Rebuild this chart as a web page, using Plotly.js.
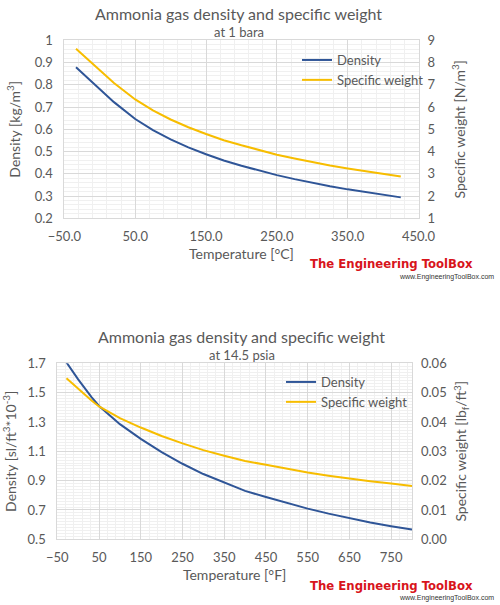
<!DOCTYPE html>
<html>
<head>
<meta charset="utf-8">
<script src="https://cdn.plot.ly/plotly-3.0.1.min.js"></script>
<style>html,body{margin:0;padding:0;background:#fff;}#chart{width:500px;height:605px;}</style>
</head>
<body>
<div id="chart"></div>
<script>
// ---- Top chart data (1 bara, SI units) ----
var tempC = [-33.6, -20, 0, 20, 50, 75, 100, 125, 150, 175, 200, 225, 250, 275, 300, 325, 350, 375, 400, 425];
var densityKgM3 = [0.879, 0.839, 0.780, 0.722, 0.646, 0.596, 0.555, 0.519, 0.488, 0.460, 0.436, 0.414, 0.394, 0.376, 0.359, 0.344, 0.330, 0.317, 0.305, 0.294];
var specWeightNM3 = [8.62, 8.23, 7.65, 7.08, 6.34, 5.85, 5.44, 5.09, 4.79, 4.51, 4.28, 4.06, 3.86, 3.69, 3.52, 3.37, 3.24, 3.11, 2.99, 2.88];

// ---- Bottom chart data (14.5 psia, imperial units) ----
var tempF = [-28, 0, 32, 50, 100, 150, 200, 250, 300, 350, 400, 450, 500, 550, 600, 650, 700, 750, 800];
var densitySlFt3 = [1.706, 1.59, 1.47, 1.409, 1.285, 1.185, 1.095, 1.015, 0.945, 0.885, 0.830, 0.788, 0.746, 0.709, 0.675, 0.643, 0.614, 0.589, 0.566];
var specWeightLbFt3 = [0.0549, 0.0512, 0.0473, 0.0453, 0.0413, 0.0381, 0.0352, 0.0327, 0.0304, 0.0285, 0.0267, 0.0254, 0.0240, 0.0228, 0.0217, 0.0207, 0.0198, 0.0190, 0.0182];

var seriesNames = ['Density', 'Specific weight'];
var blue = '#2f5597', gold = '#f7bd00';
var txt = '#595959';
var FONT = 'Lato, "Open Sans", sans-serif';
var major = '#d9d9d9', minor = '#f0f0f0';

var traces = [
  {x: tempC, y: densityKgM3, name: seriesNames[0], type: 'scatter', mode: 'lines', line: {color: blue, width: 2}, xaxis: 'x', yaxis: 'y', legend: 'legend'},
  {x: tempC, y: specWeightNM3, name: seriesNames[1], type: 'scatter', mode: 'lines', line: {color: gold, width: 2}, xaxis: 'x', yaxis: 'y2', legend: 'legend'},
  {x: tempF, y: densitySlFt3, name: seriesNames[0], type: 'scatter', mode: 'lines', line: {color: blue, width: 2}, xaxis: 'x2', yaxis: 'y3', legend: 'legend2'},
  {x: tempF, y: specWeightLbFt3, name: seriesNames[1], type: 'scatter', mode: 'lines', line: {color: gold, width: 2}, xaxis: 'x2', yaxis: 'y4', legend: 'legend2'}
];

function xax(domain, range, fmt, anchor, title, minorTick0) {
  return {
    domain: domain, anchor: anchor, range: range, tick0: range[0], dtick: 100, tickformat: fmt,
    showgrid: true, gridcolor: major, gridwidth: 1, zeroline: false,
    minor: {dtick: 20, tick0: minorTick0, showgrid: true, gridcolor: minor, gridwidth: 1},
    showline: true, linecolor: major, mirror: true,
    ticks: '', ticklabelstandoff: 6,
    tickfont: {family: FONT, size: 13, color: txt},
    title: {text: title, font: {family: FONT, size: 14, color: txt}, standoff: 6},
    fixedrange: true
  };
}
function yleft(domain, range, dtick, fmt, anchor, title, minorD) {
  return {
    domain: domain, anchor: anchor, range: range, tick0: range[0], dtick: dtick, tickformat: fmt,
    showgrid: true, gridcolor: major, gridwidth: 1, zeroline: false,
    minor: {dtick: minorD, showgrid: true, gridcolor: minor, gridwidth: 1},
    showline: true, linecolor: major, mirror: true,
    ticks: '', ticklabelstandoff: 8,
    tickfont: {family: FONT, size: 13, color: txt},
    title: {text: title, font: {family: FONT, size: 14, color: txt}, standoff: 10},
    fixedrange: true
  };
}
function yright(range, dtick, fmt, anchor, overlay, title, standoff) {
  return {
    anchor: anchor, overlaying: overlay, side: 'right', range: range, tick0: range[0], dtick: dtick, tickformat: fmt,
    showgrid: false, zeroline: false, showline: false,
    ticks: '', ticklabelstandoff: 8,
    tickfont: {family: FONT, size: 13, color: txt},
    title: {text: title, font: {family: FONT, size: 14, color: txt}, standoff: standoff},
    fixedrange: true
  };
}

var logoFont = {family: '"DejaVu Sans Condensed", "Liberation Sans Narrow", sans-serif', size: 13, color: '#d8141b'};
var urlFont = {family: '"Liberation Sans", sans-serif', size: 7, color: '#333'};

var layout = {
  width: 500, height: 605,
  margin: {l: 0, r: 0, t: 0, b: 0},
  paper_bgcolor: '#fff', plot_bgcolor: '#fff',
  showlegend: true,
  xaxis: xax([0.1288, 0.837], [-50, 450], '.1f', 'y', 'Temperature [°C]', -50),
  yaxis: yleft([0.6392, 0.9334], [0.2, 1], 0.1, '', 'x', 'Density [kg/m<sup>3</sup>]', 0.02),
  yaxis2: yright([1, 9], 1, '', 'x', 'y', 'Specific weight [N/m<sup>3</sup>]', 20),
  xaxis2: xax([0.1146, 0.824], [-50, 800], 'd', 'y3', 'Temperature [°F]', -50),
  yaxis3: yleft([0.1086, 0.3995], [0.5, 1.7], 0.2, '.1f', 'x2', 'Density [sl/ft<sup>3</sup>*10<sup>-3</sup>]', 0.02),
  yaxis4: yright([0, 0.06], 0.01, '.2f', 'x2', 'y3', 'Specific weight [lb<sub>f</sub>/ft<sup>3</sup>]', 10),
  legend: {x: 0.594, y: 0.9256, xanchor: 'left', yanchor: 'top', bgcolor: 'rgba(0,0,0,0)', borderwidth: 0,
           font: {family: FONT, size: 13, color: txt}, itemwidth: 30},
  legend2: {x: 0.562, y: 0.3934, xanchor: 'left', yanchor: 'top', bgcolor: 'rgba(0,0,0,0)', borderwidth: 0,
           font: {family: FONT, size: 13, color: txt}, itemwidth: 30},
  annotations: [
    {text: 'Ammonia gas density and specific weight', x: 238 / 500, y: 1 - 14 / 605, xref: 'paper', yref: 'paper', showarrow: false,
     xanchor: 'center', yanchor: 'middle', font: {family: FONT, size: 16, color: txt}},
    {text: 'at 1 bara', x: 239 / 500, y: 1 - 32 / 605, xref: 'paper', yref: 'paper', showarrow: false,
     xanchor: 'center', yanchor: 'middle', font: {family: FONT, size: 13, color: txt}},
    {text: 'Ammonia gas density and specific weight', x: 241 / 500, y: 1 - 336 / 605, xref: 'paper', yref: 'paper', showarrow: false,
     xanchor: 'center', yanchor: 'middle', font: {family: FONT, size: 16, color: txt}},
    {text: 'at 14.5 psia', x: 241.5 / 500, y: 1 - 355 / 605, xref: 'paper', yref: 'paper', showarrow: false,
     xanchor: 'center', yanchor: 'middle', font: {family: FONT, size: 13, color: txt}},
    {text: '<b>The Engineering ToolBox</b>', x: 391 / 500, y: 1 - 263 / 605, xref: 'paper', yref: 'paper', showarrow: false,
     xanchor: 'center', yanchor: 'middle', font: logoFont},
    {text: 'www.EngineeringToolBox.com', x: 496 / 500, y: 1 - 277 / 605, xref: 'paper', yref: 'paper', showarrow: false,
     xanchor: 'right', yanchor: 'middle', font: urlFont},
    {text: '<b>The Engineering ToolBox</b>', x: 391 / 500, y: 1 - 585 / 605, xref: 'paper', yref: 'paper', showarrow: false,
     xanchor: 'center', yanchor: 'middle', font: logoFont},
    {text: 'www.EngineeringToolBox.com', x: 496 / 500, y: 1 - 598 / 605, xref: 'paper', yref: 'paper', showarrow: false,
     xanchor: 'right', yanchor: 'middle', font: urlFont}
  ]
};

Plotly.newPlot('chart', traces, layout, {displayModeBar: false, staticPlot: true});
</script>
</body>
</html>
